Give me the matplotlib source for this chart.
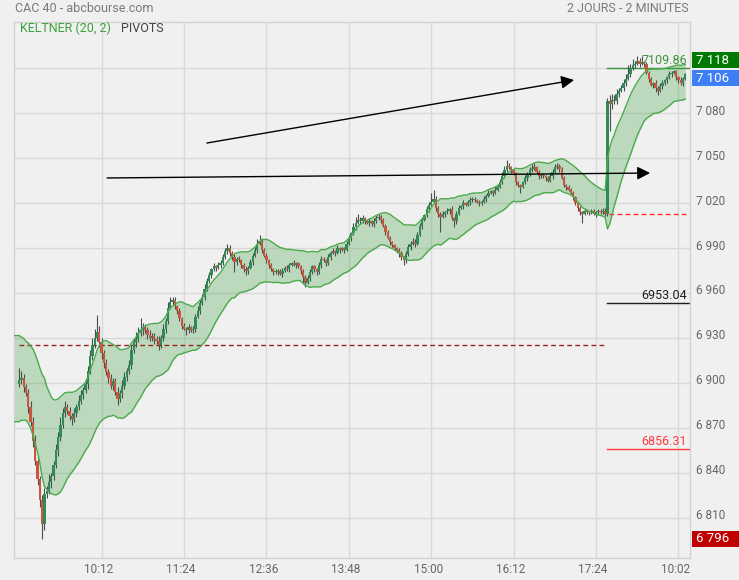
import numpy as np
import matplotlib
matplotlib.use('Agg')
import matplotlib.pyplot as plt
from matplotlib import transforms
from matplotlib.patches import Rectangle

plt.rcParams['font.family'] = ['Roboto', 'DejaVu Sans']

# ---------------- data ----------------
first_open = 6899
day1_close = [
    6902, 6903, 6897, 6893, 6884, 6874, 6861, 6848, 6836, 6822,
    6806, 6826, 6828, 6834, 6838, 6845, 6855, 6864, 6872, 6880,
    6884, 6881, 6878, 6876, 6880, 6884, 6888, 6892, 6895, 6899,
    6908, 6918, 6925, 6930, 6934, 6927, 6920, 6913, 6907, 6903,
    6898, 6901, 6894, 6889, 6893, 6898, 6904, 6908, 6912, 6922,
    6927, 6929, 6933, 6935, 6937, 6935, 6932, 6930, 6931, 6929,
    6928, 6925, 6930, 6936, 6941, 6950, 6954, 6955, 6951, 6948,
    6943, 6938, 6936, 6935, 6937, 6935, 6936, 6944, 6948, 6953,
    6957, 6963, 6968, 6972, 6976, 6978, 6977, 6979, 6980, 6984,
    6988, 6990, 6987, 6984, 6981, 6983, 6982, 6979, 6976, 6975,
    6977, 6981, 6985, 6989, 6993, 6995, 6989, 6985, 6982, 6979,
    6976, 6974, 6974, 6975, 6973, 6975, 6977, 6976, 6979, 6980,
    6979, 6980, 6978, 6975, 6971, 6967, 6970, 6974, 6978, 6976,
    6974, 6979, 6983, 6982, 6980, 6984, 6987, 6988, 6987, 6990,
    6989, 6990, 6989, 6993, 6997, 7000, 7004, 7007, 7009, 7008,
    7010, 7008, 7007, 7008, 7006, 7008, 7010, 7011, 7009, 7005,
    7001, 6997, 6994, 6992, 6990, 6989, 6987, 6984, 6982, 6986,
    6991, 6993, 6994, 6993, 6999, 7005, 7009, 7012, 7016, 7019,
    7021, 7023, 7017, 7013, 7011, 7013, 7014, 7015, 7016, 7010,
    7008, 7013, 7017, 7018, 7020, 7019, 7021, 7022, 7023, 7022,
    7021, 7020, 7021, 7023, 7025, 7027, 7028, 7027, 7029, 7031,
    7034, 7038, 7042, 7045, 7044, 7042, 7040, 7034, 7032, 7031,
    7034, 7037, 7039, 7042, 7043, 7044, 7041, 7038, 7039, 7038,
    7037, 7035, 7038, 7041, 7044, 7045, 7043, 7037, 7032, 7031,
    7029, 7027, 7024, 7020, 7017, 7014, 7013, 7015, 7014, 7014,
    7015, 7013, 7014, 7015, 7014, 7015, 7012.5,
]
day2_close = [
    7088, 7086, 7089, 7088, 7093, 7095, 7097, 7100, 7103, 7106,
    7110, 7112, 7113, 7115, 7113, 7114, 7113, 7107, 7103, 7099,
    7100, 7097, 7095, 7098, 7100, 7102, 7104, 7106, 7107, 7108,
    7104, 7102, 7100, 7103, 7106,
]
wick_hi = [
    8, 5, 3, 2, 3, 4, 3, 4, 3, 2,
    3, 4, 3, 5, 2, 3, 4, 3, 5, 3,
    4, 2, 3, 2, 3, 2, 4, 3, 2, 3,
    3, 4, 5, 6, 11, 4, 3, 2, 3, 2,
    3, 2, 2, 3, 2, 4, 3, 2, 3, 4,
    3, 5, 4, 8, 3, 2, 2, 3, 2, 2,
    2, 3, 2, 3, 2, 4, 3, 2, 2, 1,
    2, 1, 2, 1, 2, 1, 2, 2, 3, 2,
    2, 3, 2, 2, 1, 2, 1, 2, 2, 2,
    2, 3, 2, 1, 2, 1, 2, 1, 1, 2,
    1, 2, 2, 2, 3, 4, 2, 1, 2, 1,
    1, 1, 2, 1, 1, 2, 1, 2, 1, 1,
    2, 1, 1, 1, 1, 1, 2, 2, 1, 1,
    1, 2, 2, 1, 1, 2, 1, 2, 1, 2,
    1, 1, 1, 2, 2, 1, 3, 4, 4, 2,
    2, 1, 1, 2, 1, 2, 2, 2, 1, 1,
    1, 1, 1, 1, 1, 1, 1, 1, 1, 2,
    2, 2, 3, 2, 2, 2, 2, 1, 2, 2,
    6, 6, 2, 1, 1, 2, 1, 2, 1, 2,
    1, 2, 2, 1, 2, 1, 1, 2, 1, 1,
    1, 1, 1, 2, 1, 2, 1, 1, 2, 1,
    2, 3, 3, 4, 2, 1, 1, 1, 1, 1,
    1, 2, 2, 2, 3, 3, 1, 1, 1, 1,
    1, 1, 2, 2, 2, 2, 1, 1, 1, 1,
    1, 1, 1, 1, 1, 1, 1, 2, 1, 1,
    1, 1, 1, 1, 1, 2, 2,
    2, 4, 4, 3, 3, 2, 2, 3, 3, 6,
    3, 4, 2, 3, 2, 4, 1, 1, 1, 1,
    1, 2, 1, 2, 2, 1, 1, 2, 1, 1,
    1, 1, 2, 1, 1,
]
wick_lo = [
    2, 3, 3, 2, 4, 3, 4, 3, 4, 5,
    10, 4, 3, 2, 4, 3, 2, 4, 3, 2,
    3, 2, 3, 4, 2, 3, 2, 2, 3, 2,
    3, 2, 3, 2, 2, 3, 4, 3, 2, 3,
    2, 3, 2, 4, 2, 3, 2, 3, 2, 3,
    2, 3, 2, 2, 3, 2, 3, 2, 2, 3,
    2, 3, 2, 2, 3, 2, 1, 2, 2, 2,
    2, 2, 1, 3, 2, 1, 2, 2, 1, 2,
    1, 2, 2, 1, 2, 1, 2, 1, 2, 1,
    1, 2, 2, 2, 7, 2, 1, 2, 2, 3,
    2, 1, 2, 1, 2, 1, 2, 1, 2, 2,
    1, 2, 1, 2, 1, 2, 1, 1, 2, 1,
    1, 2, 1, 2, 4, 3, 1, 2, 1, 2,
    2, 1, 2, 1, 2, 1, 2, 1, 2, 1,
    2, 1, 2, 1, 1, 2, 1, 2, 1, 2,
    1, 2, 1, 2, 1, 2, 1, 1, 2, 1,
    2, 1, 2, 1, 2, 2, 3, 2, 3, 2,
    1, 2, 1, 2, 1, 1, 2, 1, 1, 2,
    1, 1, 2, 2, 10, 1, 2, 1, 2, 1,
    4, 2, 1, 1, 2, 1, 1, 2, 1, 1,
    1, 2, 1, 1, 2, 1, 1, 2, 1, 1,
    1, 1, 1, 1, 1, 2, 1, 2, 1, 4,
    1, 1, 2, 1, 1, 1, 1, 2, 1, 1,
    2, 1, 1, 2, 1, 1, 2, 1, 1, 2,
    1, 1, 2, 1, 2, 2, 6, 1, 1, 2,
    1, 1, 2, 1, 1, 1, 1,
    1, 18, 3, 2, 2, 2, 1, 2, 2, 1,
    2, 1, 2, 1, 2, 1, 2, 1, 2, 1,
    2, 3, 3, 1, 2, 1, 2, 1, 2, 1,
    2, 2, 1, 2, 1,
]

x_tick_labels = ['10:12', '11:24', '12:36', '13:48', '15:00', '16:12', '17:24', '10:02']
x_tick_day = [1, 1, 1, 1, 1, 1, 1, 2]
y_ticks = [6810, 6840, 6870, 6900, 6930, 6960, 6990, 7020, 7050, 7080, 7110]
y_hidden_labels = [7110]  # covered by the value boxes in the reference

pivot_day1_prev = 6925.3
prev_close_day2 = 7012.5
pivots_day2 = [7109.86, 6953.04, 6856.31]
pivot_colors = ['#3c963c', '#1e1e1e', '#ff3b3b']

keltner_period = 20
keltner_mult = 2
kelt_seed_mid = 6903
kelt_seed_atr = 14.5

# ---------------- derived ----------------
close = np.array(day1_close + day2_close, dtype=float)
n = len(close)
assert len(wick_hi) == n and len(wick_lo) == n, (n, len(wick_hi), len(wick_lo))
open_ = np.concatenate([[first_open], close[:-1]])
high = np.maximum(open_, close) + np.array(wick_hi)
low = np.minimum(open_, close) - np.array(wick_lo)
xs = np.arange(n)
day2_start = len(day1_close)

alpha = 2.0 / (keltner_period + 1)
mid, atr, prev = kelt_seed_mid, kelt_seed_atr, open_[0]
upper, lower = [], []
for i in range(n):
    tr = max(high[i] - low[i], abs(high[i] - prev), abs(low[i] - prev))
    atr += alpha * (tr - atr)
    mid += alpha * (close[i] - mid)
    prev = close[i]
    upper.append(mid + keltner_mult * atr)
    lower.append(mid - keltner_mult * atr)

def tpos(lbl, day):
    h, m = map(int, lbl.split(':'))
    return (h * 60 + m - 540) / 2 + (day2_start if day == 2 else 0)

xtick_pos = [tpos(l, d) for l, d in zip(x_tick_labels, x_tick_day)]

# ---------------- figure ----------------
W, H = 739, 580
BG = '#f0f0f0'
fig = plt.figure(figsize=(W / 100, H / 100), dpi=100, facecolor=BG)
ax_l, ax_r, ax_t, ax_b = 14, 690, 22, 557.7
ax = fig.add_axes([ax_l / W, 1 - ax_b / H, (ax_r - ax_l) / W, (ax_b - ax_t) / H])
ax.set_facecolor(BG)

x_left, x_right = -2.27, 293.05
ax.set_xlim(x_left, x_right)
ax.set_ylim(6783.5, 7140.7)

grid_c = '#d9d9d9'
for s in ax.spines.values():
    s.set_color('#d2d2d2')
    s.set_linewidth(1.0)

ax.set_xticks(xtick_pos)
ax.set_xticklabels(x_tick_labels)
ax.set_yticks(y_ticks)
ax.set_yticklabels(['' if v in y_hidden_labels else f"{v:,}".replace(',', ' ') for v in y_ticks])
ax.yaxis.tick_right()
ax.tick_params(axis='both', length=0, labelsize=8.5, labelcolor='#666666')
ax.tick_params(axis='y', pad=4)
ax.tick_params(axis='x', pad=4)
ax.grid(True, color=grid_c, lw=1.0)
ax.set_axisbelow(True)
for lab in ax.get_yticklabels():
    lab.set_transform(lab.get_transform() + transforms.ScaledTranslation(0, 0.035, fig.dpi_scale_trans))
for lab in ax.get_xticklabels():
    lab.set_transform(lab.get_transform() + transforms.ScaledTranslation(-0.03, 0, fig.dpi_scale_trans))

# Keltner band
bx = np.concatenate([[x_left], xs])
bu = np.concatenate([[upper[0]], upper])
bl = np.concatenate([[lower[0]], lower])
ax.fill_between(bx, bl, bu, color='#4ca64c', alpha=0.31, lw=0, zorder=1)

# pivots
ax.plot([0, day2_start - 1], [pivot_day1_prev] * 2, color='#992222', lw=1.0,
        dashes=(3.4, 2.4), zorder=1.5)
ax.plot([day2_start + 0.6, n - 0.6], [prev_close_day2] * 2, color='#ff2a2a', lw=1.0,
        dashes=(3.4, 2.4), zorder=1.5)
ytr = transforms.blended_transform_factory(ax.transAxes, ax.transData)
for pv, pc in zip(pivots_day2, pivot_colors):
    ax.plot([day2_start - 0.2, x_right], [pv, pv], color=pc, lw=1.0, zorder=1.5)
    ax.text((687 - ax_l) / (ax_r - ax_l), pv, f"{pv:.2f}", color=pc, fontsize=9,
            ha='right', va='bottom',
            transform=transforms.offset_copy(ytr, fig=fig, y=1, units='dots'), zorder=6)

# candles
up = close >= open_
ax.vlines(xs, low, high, color='#4d4d4d', lw=0.8, zorder=2)
body_lo = np.minimum(open_, close)
body_h = np.maximum(np.abs(close - open_), 0.8)
ax.bar(xs[up], body_h[up], bottom=body_lo[up], width=1.0, color='#2e8b57', lw=0, zorder=3)
ax.bar(xs[~up], body_h[~up], bottom=body_lo[~up], width=1.0, color='#c9553f', lw=0, zorder=3)

ax.plot(bx, bu, color='#4caa4c', lw=1.0, zorder=3.5)
ax.plot(bx, bl, color='#4caa4c', lw=1.0, zorder=3.5)

# arrows (drawing annotations)
arrow_kw = dict(arrowstyle='-|>,head_length=0.55,head_width=0.28', color='black', lw=1.0,
                mutation_scale=14, shrinkA=0, shrinkB=0)
ax.annotate('', xy=(242.4, 7102), xytext=(82.0, 7060), arrowprops=arrow_kw, zorder=5)
ax.annotate('', xy=(275.6, 7040), xytext=(38.4, 7036.7), arrowprops=arrow_kw, zorder=5)

# header texts
def fx(px):
    return px / W

def fy(py):
    return 1 - py / H

fig.text(fx(15), fy(8.5), 'CAC 40 - abcbourse.com', color='#7a7a7a', fontsize=9, va='center', ha='left')
fig.text(fx(689), fy(8.5), '2 JOURS - 2 MINUTES', color='#7a7a7a', fontsize=9, va='center', ha='right')
fig.text(fx(20), fy(28.5), 'KELTNER (20, 2)', color='#3aa13a', fontsize=9, va='center', ha='left')
fig.text(fx(121), fy(28.5), 'PIVOTS', color='#444444', fontsize=9, va='center', ha='left')

# right value boxes
hi_val, last_val, lo_val = high.max(), close[-1], low.min()
boxes = [(hi_val, '#007a00', -4), (last_val, '#3f7ff5', -4), (lo_val, '#c00000', 0)]
btr = transforms.blended_transform_factory(fig.transFigure, ax.transData)
for val, col, off in boxes:
    tr_ = transforms.offset_copy(btr, fig=fig, y=off, units='dots')
    rect = Rectangle((fx(692), val - 5.5), fx(W) - fx(692), 11.0, transform=tr_,
                     facecolor=col, edgecolor='none', clip_on=False, zorder=10)
    fig.add_artist(rect)
    fig.text(fx(696), val, f"{int(round(val)):,}".replace(',', ' '), transform=tr_,
             color='white', fontsize=9.5, va='center', ha='left', zorder=11)

fig.savefig('out.png', dpi=100, facecolor=BG)
